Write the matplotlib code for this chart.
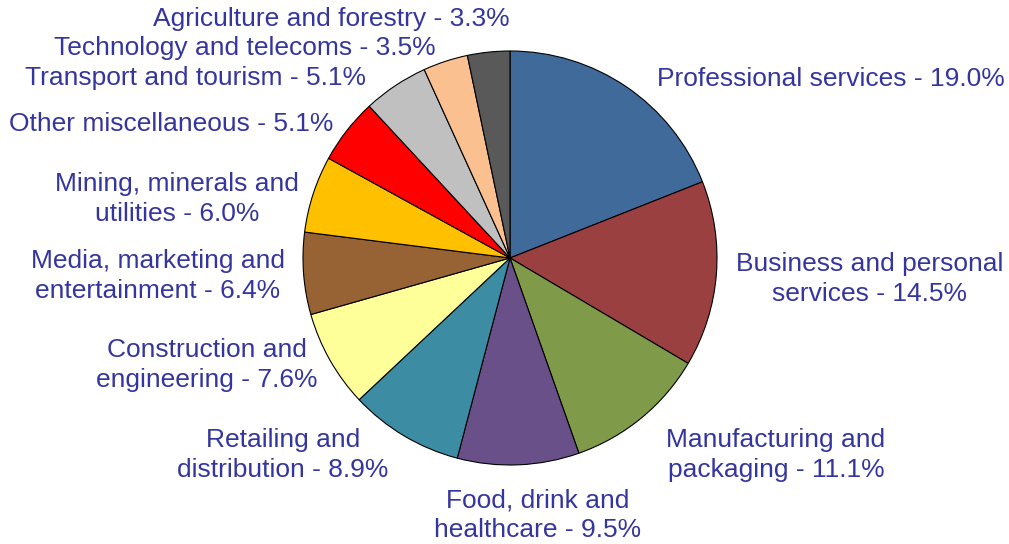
import matplotlib.pyplot as plt

plt.rcParams['font.family'] = ['Liberation Sans', 'DejaVu Sans']

sectors = ['Professional services', 'Business and personal\nservices',
           'Manufacturing and\npackaging', 'Food, drink and\nhealthcare',
           'Retailing and\ndistribution', 'Construction and\nengineering',
           'Media, marketing and\nentertainment', 'Mining, minerals and\nutilities',
           'Other miscellaneous', 'Transport and tourism',
           'Technology and telecoms', 'Agriculture and forestry']
shares = [19.0, 14.5, 11.1, 9.5, 8.9, 7.6, 6.4, 6.0, 5.1, 5.1, 3.5, 3.3]
colors = ['#3F6A9A', '#9B4040', '#7F9B49', '#6A5088', '#3C8CA4', '#FFFF99',
          '#986334', '#FFC000', '#FF0000', '#C0C0C0', '#FAC090', '#595959']

# label anchor points (pixels from top-left) and alignment
label_pos = [(657, 79, 'left'), (870, 279, 'center'), (776, 455, 'center'),
             (538, 515, 'center'), (283, 455, 'center'), (207, 365, 'center'),
             (158, 276, 'center'), (177, 199, 'center'), (333, 124, 'right'),
             (366, 78, 'right'), (436, 48, 'right'), (510, 19, 'right')]

W, H = 1009, 544
fig = plt.figure(figsize=(W / 100, H / 100), dpi=100)
ax = fig.add_axes([0, 0, 1, 1])
ax.set_xlim(0, W)
ax.set_ylim(0, H)
ax.set_aspect('equal')
ax.axis('off')

ax.pie(shares, colors=colors, startangle=90, counterclock=False,
       center=(510, H - 258), radius=207,
       wedgeprops=dict(edgecolor='black', linewidth=0.8))
ax.set_xlim(0, W)
ax.set_ylim(0, H)

for name, val, (x, y, ha) in zip(sectors, shares, label_pos):
    ax.text(x, H - y, '%s - %.1f%%' % (name, val), ha=ha, va='center',
            multialignment='center', fontsize=19, color='#3535A0',
            linespacing=1.3)

fig.savefig('out.png', dpi=100)
